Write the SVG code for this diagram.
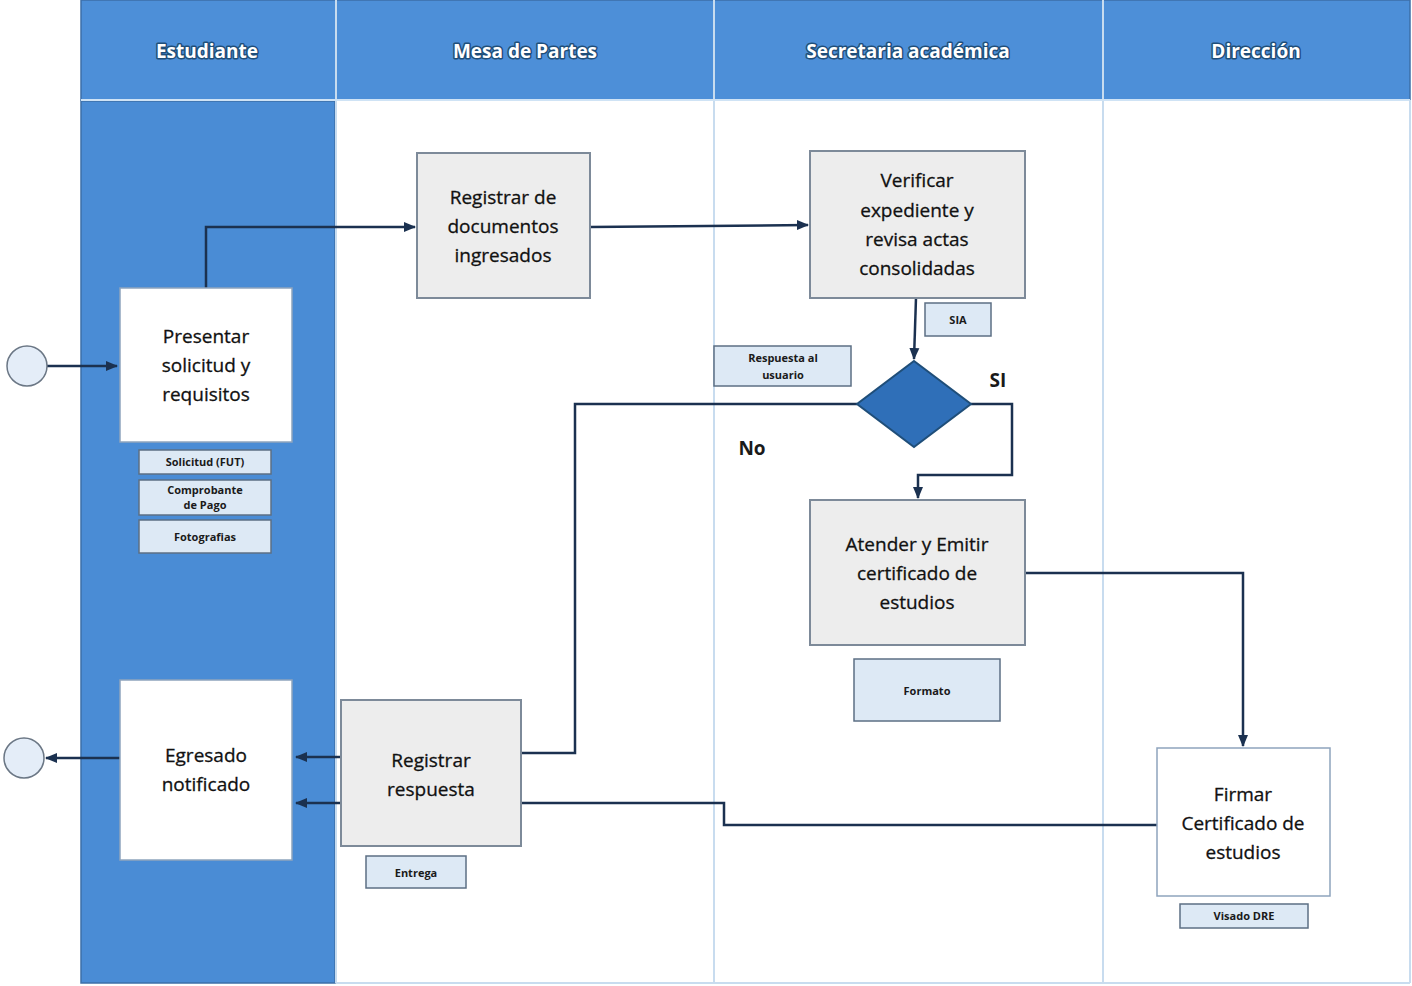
<svg xmlns="http://www.w3.org/2000/svg" width="1412" height="986" viewBox="0 0 1412 986">
<defs>
<marker id="arr" markerWidth="12" markerHeight="12" refX="11" refY="6" orient="auto" markerUnits="userSpaceOnUse">
<path d="M0,1 L12,6 L0,11 Z" fill="#1b3150"/>
</marker>
<style>
.hdr{fill:#ffffff;font-family:"Open Sans","Liberation Sans",sans-serif;font-weight:bold;font-size:19px;text-anchor:middle;stroke:#1f4e79;stroke-width:3;paint-order:stroke;stroke-linejoin:round}
.t{font-family:"Open Sans","Liberation Sans",sans-serif;font-size:19px;fill:#111111;text-anchor:middle;stroke:#111111;stroke-width:0.3}
.s{font-family:"Open Sans","Liberation Sans",sans-serif;font-size:11px;font-weight:bold;fill:#1a1a1a;text-anchor:middle}
.box{fill:#ededed;stroke:#7d8a99;stroke-width:2}
.wbox{fill:#ffffff;stroke:#8ea4bd;stroke-width:1.5}
.lbl{fill:#dde9f5;stroke:#5c6f84;stroke-width:1.5}
.con{fill:none;stroke:#1b3150;stroke-width:2.5}
.lane{stroke:#c8dcef;stroke-width:2}
</style>
</defs>
<rect x="0" y="0" width="1412" height="986" fill="#ffffff"/>
<g id="lanes">
<rect x="81" y="0" width="1329" height="100" fill="#4d8fd8" stroke="#3d6fa8" stroke-width="1.5"/>
<rect x="81" y="101" width="254" height="882" fill="#4a8cd5" stroke="#3d6fa8" stroke-width="1.5"/>
<line class="lane" x1="336" y1="0" x2="336" y2="983"/>
<line class="lane" x1="714" y1="0" x2="714" y2="983"/>
<line class="lane" x1="1103" y1="0" x2="1103" y2="983"/>
<line x1="81" y1="100" x2="1410" y2="100" stroke="#cfe3f5" stroke-width="2"/>
<line x1="336" y1="983" x2="1410" y2="983" stroke="#c8dcef" stroke-width="2"/>
<line x1="1410" y1="100" x2="1410" y2="983" stroke="#c8dcef" stroke-width="2"/>
<text class="hdr" x="207" y="58">Estudiante</text>
<text class="hdr" x="525" y="58">Mesa de Partes</text>
<text class="hdr" x="908" y="58">Secretaria académica</text>
<text class="hdr" x="1256" y="58">Dirección</text>
</g>
<g id="connectors">
<line class="con" x1="47" y1="366" x2="117" y2="366" marker-end="url(#arr)"/>
<polyline class="con" points="206,288 206,227 415,227" marker-end="url(#arr)"/>
<line class="con" x1="590" y1="227" x2="808" y2="225" marker-end="url(#arr)"/>
<line class="con" x1="916" y1="298" x2="914" y2="359" marker-end="url(#arr)"/>
<polyline class="con" points="971,404 1012,404 1012,475 918,475 918,498" marker-end="url(#arr)"/>
<polyline class="con" points="857,404 575,404 575,753 521,753"/>
<line class="con" x1="341" y1="757" x2="296" y2="757" marker-end="url(#arr)"/>
<line class="con" x1="341" y1="803" x2="296" y2="803" marker-end="url(#arr)"/>
<polyline class="con" points="1025,573 1243,573 1243,746" marker-end="url(#arr)"/>
<polyline class="con" points="1157,825 724,825 724,803 521,803"/>
<line class="con" x1="120" y1="758" x2="46" y2="758" marker-end="url(#arr)"/>
</g>
<g id="start"><circle cx="27" cy="366" r="20" fill="#e4edf8" stroke="#6b7785" stroke-width="1.5"/></g>
<g id="end"><circle cx="24" cy="758" r="20" fill="#e4edf8" stroke="#6b7785" stroke-width="1.5"/></g>
<g id="presentar">
<rect class="wbox" x="120" y="288" width="172" height="154"/>
<text class="t" x="206" y="343">Presentar</text>
<text class="t" x="206" y="372">solicitud y</text>
<text class="t" x="206" y="401">requisitos</text>
</g>
<g id="doc-fut"><rect class="lbl" x="139" y="450" width="132" height="24"/><text class="s" x="205" y="466">Solicitud (FUT)</text></g>
<g id="doc-pago"><rect class="lbl" x="139" y="480" width="132" height="35"/><text class="s" x="205" y="494">Comprobante</text><text class="s" x="205" y="509">de Pago</text></g>
<g id="doc-foto"><rect class="lbl" x="139" y="520" width="132" height="33"/><text class="s" x="205" y="541">Fotografias</text></g>
<g id="egresado">
<rect class="wbox" x="120" y="680" width="172" height="180"/>
<text class="t" x="206" y="762">Egresado</text>
<text class="t" x="206" y="791">notificado</text>
</g>
<g id="registrar-docs">
<rect class="box" x="417" y="153" width="173" height="145"/>
<text class="t" x="503" y="204">Registrar de</text>
<text class="t" x="503" y="233">documentos</text>
<text class="t" x="503" y="262">ingresados</text>
</g>
<g id="registrar-resp">
<rect class="box" x="341" y="700" width="180" height="146"/>
<text class="t" x="431" y="767">Registrar</text>
<text class="t" x="431" y="796">respuesta</text>
</g>
<g id="entrega"><rect class="lbl" x="366" y="856" width="100" height="32"/><text class="s" x="416" y="877">Entrega</text></g>
<g id="verificar">
<rect class="box" x="810" y="151" width="215" height="147"/>
<text class="t" x="917" y="187">Verificar</text>
<text class="t" x="917" y="217">expediente y</text>
<text class="t" x="917" y="246">revisa  actas</text>
<text class="t" x="917" y="275">consolidadas</text>
</g>
<g id="sia"><rect class="lbl" x="925" y="303" width="66" height="33"/><text class="s" x="958" y="324">SIA</text></g>
<g id="respuesta-usuario"><rect class="lbl" x="714" y="346" width="137" height="40"/><text class="s" x="783" y="362">Respuesta al</text><text class="s" x="783" y="379">usuario</text></g>
<g id="decision">
<polygon points="914,361 971,404 914,447 857,404" fill="#2f6fb8" stroke="#1f4e79" stroke-width="2"/>
<text x="998" y="387" font-family="Open Sans, Liberation Sans, sans-serif" font-weight="bold" font-size="19" fill="#1a1a1a" text-anchor="middle">SI</text>
<text x="752" y="455" font-family="Open Sans, Liberation Sans, sans-serif" font-weight="bold" font-size="19" fill="#1a1a1a" text-anchor="middle">No</text>
</g>
<g id="atender">
<rect class="box" x="810" y="500" width="215" height="145"/>
<text class="t" x="917" y="551">Atender y Emitir</text>
<text class="t" x="917" y="580">certificado de</text>
<text class="t" x="917" y="609">estudios</text>
</g>
<g id="formato"><rect class="lbl" x="854" y="659" width="146" height="62"/><text class="s" x="927" y="695">Formato</text></g>
<g id="firmar">
<rect class="wbox" x="1157" y="748" width="173" height="148" stroke="#5c6f84" stroke-width="2"/>
<text class="t" x="1243" y="801">Firmar</text>
<text class="t" x="1243" y="830">Certificado de</text>
<text class="t" x="1243" y="859">estudios</text>
</g>
<g id="visado"><rect class="lbl" x="1180" y="904" width="128" height="24"/><text class="s" x="1244" y="920">Visado DRE</text></g>
</svg>
